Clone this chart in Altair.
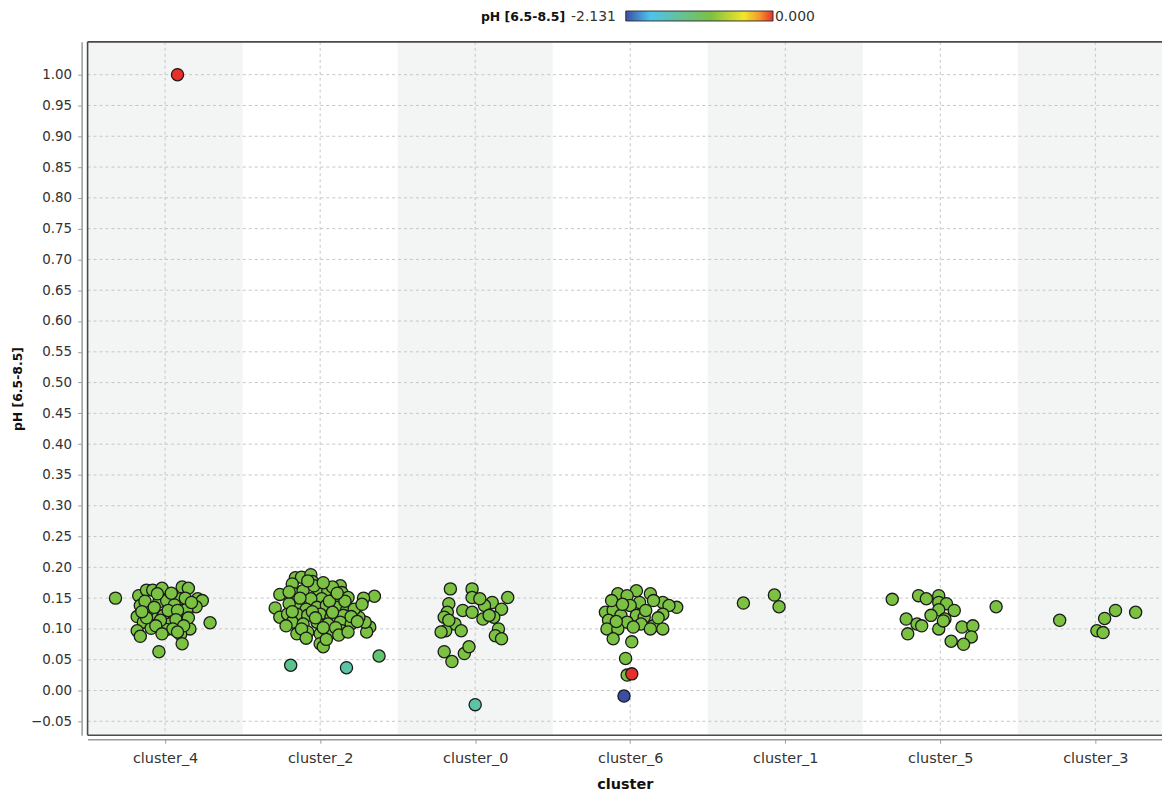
import altair as alt
import pandas as pd

# ---------------- data ----------------
clusters = ["cluster_4", "cluster_2", "cluster_0", "cluster_6", "cluster_1", "cluster_5", "cluster_3"]

y_ticks = [-0.05, 0.00, 0.05, 0.10, 0.15, 0.20, 0.25, 0.30, 0.35, 0.40, 0.45,
           0.50, 0.55, 0.60, 0.65, 0.70, 0.75, 0.80, 0.85, 0.90, 0.95, 1.00]

color_min = -2.131
color_max = 0.000
color_stops = [-2.131, -1.78, -1.40, -0.90, -0.42, -0.20, 0.0]
color_range = ["#3c4ea1", "#4cc3ef", "#62c1a2", "#7bc142", "#f3e52b", "#f59a2a", "#e8302a"]

GREEN = -0.90  # colour value of the bulk of the points

# (jitter within the category, pH value) for the green points
c4_points = [(-0.32, 0.150), (0.29, 0.110), (-0.04, 0.063), (-0.17, 0.154), (-0.12, 0.163),
             (-0.08, 0.163), (-0.02, 0.166), (0.11, 0.168), (0.15, 0.166), (0.10, 0.149),
             (0.21, 0.149), (0.24, 0.146), (0.20, 0.136), (-0.16, 0.138), (-0.04, 0.144),
             (0.01, 0.146), (0.06, 0.139), (-0.18, 0.120), (-0.09, 0.124), (-0.01, 0.122),
             (0.06, 0.124), (0.12, 0.119), (-0.14, 0.111), (0.03, 0.108), (0.10, 0.111),
             (-0.09, 0.101), (0.01, 0.099), (0.16, 0.100), (-0.18, 0.097), (-0.16, 0.088),
             (0.10, 0.091), (0.11, 0.076), (-0.03, 0.114), (0.14, 0.132), (-0.11, 0.130),
             (0.02, 0.130), (0.08, 0.130), (-0.05, 0.157), (0.04, 0.158), (0.13, 0.150),
             (-0.13, 0.145), (0.07, 0.115), (-0.06, 0.105), (0.05, 0.100), (-0.12, 0.118),
             (0.15, 0.118), (0.17, 0.143), (-0.07, 0.135), (0.12, 0.105), (-0.02, 0.092),
             (0.08, 0.095), (-0.15, 0.128)]

c2_points = [(-0.26, 0.156), (-0.29, 0.134), (-0.26, 0.119), (0.35, 0.153), (0.28, 0.150),
             (0.32, 0.103), (0.30, 0.095), (0.29, 0.111), (0.25, 0.119), (-0.16, 0.183),
             (-0.12, 0.184), (-0.06, 0.188), (-0.05, 0.177), (-0.18, 0.173), (-0.17, 0.157),
             (-0.11, 0.162), (-0.01, 0.163), (0.05, 0.162), (0.13, 0.170), (0.14, 0.159),
             (0.18, 0.151), (0.10, 0.151), (0.01, 0.149), (-0.06, 0.149), (-0.14, 0.141),
             (-0.20, 0.141), (-0.09, 0.132), (-0.02, 0.135), (0.04, 0.138), (0.11, 0.135),
             (0.17, 0.130), (0.22, 0.132), (-0.21, 0.124), (-0.15, 0.124), (-0.08, 0.122),
             (0.00, 0.124), (0.07, 0.119), (0.15, 0.122), (-0.18, 0.111), (-0.11, 0.108),
             (-0.02, 0.111), (0.05, 0.108), (0.13, 0.111), (0.20, 0.108), (-0.15, 0.092),
             (-0.08, 0.095), (0.00, 0.092), (0.06, 0.092), (0.14, 0.097), (0.00, 0.076),
             (0.02, 0.071), (-0.04, 0.170), (0.08, 0.168), (-0.13, 0.150), (0.06, 0.145),
             (0.16, 0.145), (-0.18, 0.128), (-0.05, 0.128), (0.08, 0.127), (0.20, 0.120),
             (-0.12, 0.100), (0.02, 0.102), (0.10, 0.102), (0.24, 0.112), (-0.22, 0.105),
             (-0.03, 0.118), (0.12, 0.090), (0.04, 0.083), (-0.09, 0.085), (0.18, 0.095),
             (0.27, 0.140), (-0.08, 0.178), (0.02, 0.175), (0.11, 0.158), (-0.20, 0.160)]

c0_points = [(-0.16, 0.165), (-0.02, 0.165), (0.21, 0.151), (-0.02, 0.151), (-0.17, 0.141),
             (0.11, 0.143), (0.06, 0.138), (0.17, 0.132), (-0.08, 0.130), (-0.02, 0.127),
             (-0.18, 0.127), (0.12, 0.119), (0.05, 0.116), (-0.20, 0.119), (-0.13, 0.108),
             (-0.19, 0.097), (-0.22, 0.095), (-0.09, 0.097), (0.15, 0.100), (0.13, 0.089),
             (0.17, 0.084), (-0.20, 0.063), (-0.15, 0.047), (-0.07, 0.060), (-0.04, 0.071),
             (0.03, 0.149), (0.09, 0.122), (-0.17, 0.114)]

c6_points = [(0.04, 0.162), (-0.08, 0.157), (-0.02, 0.154), (0.13, 0.157), (0.21, 0.143),
             (0.30, 0.135), (0.25, 0.138), (0.15, 0.146), (0.06, 0.143), (0.00, 0.138),
             (-0.16, 0.127), (-0.11, 0.130), (-0.06, 0.122), (0.04, 0.122), (0.09, 0.119),
             (0.21, 0.124), (-0.14, 0.114), (-0.02, 0.111), (0.07, 0.108), (0.15, 0.105),
             (-0.15, 0.100), (-0.08, 0.100), (0.02, 0.103), (0.13, 0.100), (0.21, 0.100),
             (-0.11, 0.084), (0.01, 0.079), (-0.03, 0.052), (-0.02, 0.025), (-0.12, 0.146),
             (0.10, 0.130), (-0.05, 0.140), (0.18, 0.118), (-0.09, 0.112)]

c1_points = [(-0.27, 0.142), (-0.07, 0.155), (-0.04, 0.136)]

c5_points = [(-0.31, 0.148), (0.36, 0.136), (-0.14, 0.154), (-0.09, 0.149), (-0.01, 0.154),
             (-0.01, 0.143), (0.04, 0.141), (0.09, 0.130), (-0.01, 0.131), (-0.06, 0.122),
             (0.03, 0.116), (-0.22, 0.116), (-0.15, 0.108), (-0.12, 0.105), (-0.01, 0.100),
             (-0.21, 0.092), (0.14, 0.103), (0.21, 0.105), (0.20, 0.087), (0.07, 0.080),
             (0.15, 0.075), (0.02, 0.113)]

c3_points = [(-0.23, 0.114), (0.06, 0.117), (0.13, 0.130), (0.26, 0.127), (0.01, 0.097),
             (0.05, 0.094)]

green_points = {"cluster_4": c4_points, "cluster_2": c2_points, "cluster_0": c0_points,
                "cluster_6": c6_points, "cluster_1": c1_points, "cluster_5": c5_points,
                "cluster_3": c3_points}

# differently coloured points
special_cluster = ["cluster_2", "cluster_2", "cluster_2", "cluster_0", "cluster_6", "cluster_6", "cluster_4"]
special_jitter = [-0.19, 0.17, 0.38, 0.00, 0.01, -0.04, 0.08]
special_y = [0.041, 0.037, 0.056, -0.023, 0.027, -0.009, 1.000]
special_color = [-1.25, -1.42, -1.10, -1.42, 0.000, -2.131, 0.000]

# ---------------- build tables ----------------
idx = {c: i for i, c in enumerate(clusters)}
rows = []
for c, pts in green_points.items():
    for j, v in pts:
        rows.append({"cluster": c, "xpos": idx[c] + j, "ph": v, "cval": GREEN})
for c, j, v, cv in zip(special_cluster, special_jitter, special_y, special_color):
    rows.append({"cluster": c, "xpos": idx[c] + j, "ph": v, "cval": cv})
points_df = pd.DataFrame(rows)

band_df = pd.DataFrame({"cluster": clusters,
                        "lo": [i - 0.5 for i in range(len(clusters))],
                        "hi": [i + 0.5 for i in range(len(clusters))],
                        "shade": [i % 2 == 0 for i in range(len(clusters))]})
vgrid_df = pd.DataFrame({"pos": list(range(len(clusters)))})
hgrid_df = pd.DataFrame({"val": y_ticks})
one = pd.DataFrame({"k": [0]})

# ---------------- chart ----------------
W, H = 1080, 697
xscale = alt.Scale(domain=[-0.5, 6.43], nice=False, zero=False)
yscale = alt.Scale(domain=[-0.0727, 1.0533], nice=False, zero=False)
GRID = "#c6c6c6"
FRAME = "#4a4a4a"

label_expr = "[" + ",".join("'%s'" % c for c in clusters) + "][datum.value]"
x_axis = alt.Axis(values=list(range(len(clusters))), labelExpr=label_expr,
                  title="cluster", grid=False, offset=4, tickSize=4,
                  labelPadding=8, titlePadding=13, domainWidth=1.5,
                  labelFontSize=14.5, titleFontSize=14.5)
y_axis = alt.Axis(values=y_ticks, format=".2f", grid=False, offset=6, tickSize=4,
                  labelPadding=6, title="pH [6.5-8.5]", titlePadding=6,
                  domainWidth=1.5)

bands = alt.Chart(band_df).transform_filter("datum.shade").mark_rect(
    clip=True, color="#f3f4f4").encode(
    x=alt.X("lo:Q", scale=xscale, axis=x_axis), x2="hi:Q",
    y=alt.value(0), y2=alt.value(H))

vgrid = alt.Chart(vgrid_df).mark_rule(color=GRID, strokeDash=[3, 3], strokeWidth=1).encode(
    x=alt.X("pos:Q", scale=xscale, axis=x_axis), y=alt.value(0), y2=alt.value(H))

hgrid = alt.Chart(hgrid_df).mark_rule(color=GRID, strokeDash=[3, 3], strokeWidth=1).encode(
    y=alt.Y("val:Q", scale=yscale, axis=y_axis), x=alt.value(0), x2=alt.value(W))

points = alt.Chart(points_df).mark_point(
    filled=True, shape="circle", size=150, stroke="#1a1a1a", strokeWidth=1.3, opacity=1
).encode(
    x=alt.X("xpos:Q", scale=xscale, axis=x_axis),
    y=alt.Y("ph:Q", scale=yscale, axis=y_axis),
    fill=alt.Fill("cval:Q", scale=alt.Scale(domain=color_stops, range=color_range), legend=None),
)

frame_top = alt.Chart(one).mark_rule(color=FRAME, strokeWidth=1.6).encode(
    x=alt.value(0), x2=alt.value(W), y=alt.value(0))
frame_left = alt.Chart(one).mark_rule(color=FRAME, strokeWidth=1.6).encode(
    x=alt.value(0), y=alt.value(0), y2=alt.value(H))
frame_bottom = alt.Chart(one).mark_rule(color=FRAME, strokeWidth=1.6).encode(
    x=alt.value(0), x2=alt.value(W), y=alt.value(H))

# colour legend drawn at the top
span = color_max - color_min
grad = alt.LinearGradient(
    gradient="linear", x1=0, x2=1, y1=0, y2=0,
    stops=[alt.GradientStop(color=c, offset=(v - color_min) / span)
           for v, c in zip(color_stops, color_range)])
leg_bar = alt.Chart(one).mark_rect(fill=grad, stroke="#333333", strokeWidth=1).encode(
    x=alt.value(541), x2=alt.value(689), y=alt.value(-31), y2=alt.value(-21))
leg_title = alt.Chart(one).mark_text(
    align="right", baseline="middle", font="DejaVu Sans", fontWeight="bold",
    fontSize=12.5, color="#111111").encode(
    x=alt.value(480), y=alt.value(-25), text=alt.value("pH [6.5-8.5]"))
leg_min = alt.Chart(one).mark_text(
    align="left", baseline="middle", font="DejaVu Sans", fontSize=14,
    color="#333333").encode(
    x=alt.value(486), y=alt.value(-25), text=alt.value("%.3f" % color_min))
leg_max = alt.Chart(one).mark_text(
    align="left", baseline="middle", font="DejaVu Sans", fontSize=14,
    color="#333333").encode(
    x=alt.value(691), y=alt.value(-25), text=alt.value("%.3f" % color_max))

chart = alt.layer(
    bands, vgrid, hgrid, points, frame_top, frame_left, frame_bottom,
    leg_bar, leg_title, leg_min, leg_max
).properties(
    width=W, height=H,
    autosize=alt.AutoSizeParams(type="none"),
    padding={"left": 80, "top": 32, "right": 0, "bottom": 56},
    background="white",
).configure_view(stroke=None).configure_axis(
    labelFont="DejaVu Sans", labelFontSize=13.5, labelColor="#333333",
    domainColor="#9a9a9a", tickColor="#9a9a9a",
    titleFont="DejaVu Sans", titleFontSize=12.5, titleFontWeight="bold", titleColor="#111111",
)

chart.save("out.html", embed_options={"renderer": "svg", "actions": False})
